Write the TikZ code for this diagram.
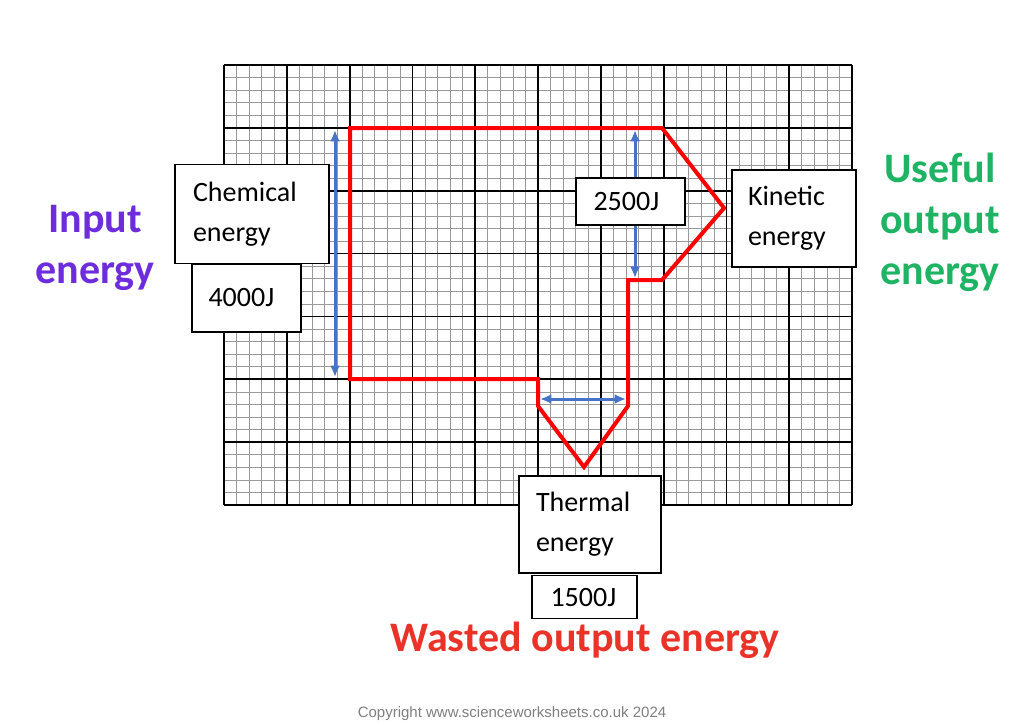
\documentclass[tikz,border=0pt]{standalone}
\usepackage{fontspec}
\setmainfont{Carlito}
\newfontfamily\arialfont{Liberation Sans}
\usetikzlibrary{arrows.meta}
\definecolor{inputpurple}{RGB}{110,45,220}
\definecolor{usefulgreen}{RGB}{30,180,100}
\definecolor{wastedred}{RGB}{235,50,40}
\definecolor{arrowblue}{RGB}{70,115,200}
\tikzset{%
  >={Latex[width=3.5mm,length=4mm]},
  % boxes and labels
  box/.style = {rectangle, draw=black, fill=white, line width=1.3pt,
                align=left, font=\fontsize{28}{40}\selectfont, inner sep=0pt},
  heading/.style = {align=center, font=\fontsize{42}{51}\selectfont\bfseries},
  flow/.style = {draw=red, line width=4pt, line join=miter},
  width/.style = {<->, draw=arrowblue, line width=3pt},
}
\begin{document}
\begin{tikzpicture}[x=1pt,y=-1pt]
  \useasboundingbox (0,0) rectangle (1024,724);
  \fill[white] (0,0) rectangle (1024,724);
  % graph paper
  \foreach \x in {0,...,50} \draw[gray!80, line width=0.6pt] (224+\x*12.56,65) -- (224+\x*12.56,505);
  \foreach \y in {0,...,35} \draw[gray!80, line width=0.6pt] (224,65+\y*12.57) -- (852,65+\y*12.57);
  \foreach \x in {0,...,10} \draw[black, line width=1.8pt] (224+\x*62.8,65) -- (224+\x*62.8,505);
  \foreach \y in {0,...,7} \draw[black, line width=1.8pt] (224,65+\y*62.86) -- (852,65+\y*62.86);
  % Sankey outline
  \draw[flow] (350,128) -- (662,128) -- (724,208) -- (662,280) -- (628,280)
    -- (628,406) -- (584,467) -- (538,406) -- (538,379) -- (350,379) -- cycle;
  % widths
  \coordinate (inTop) at (335,130);
  \coordinate (inBot) at (335,377);
  \coordinate (kinTop) at (635,130);
  \coordinate (kinBot) at (635,278);
  \coordinate (thL) at (540,399);
  \coordinate (thR) at (626,399);
  \draw[width] (inTop) -- (inBot);
  \draw[width] (kinTop) -- (kinBot);
  \draw[width] (thL) -- (thR);
  % boxes
  \node (chem) [box, minimum width=154pt, minimum height=99pt, text width=118pt] at (252,214) {Chemical\\energy};
  \node (chemJ) [box, minimum width=109pt, minimum height=68pt, text width=76pt] at (246.5,298) {4000J};
  \node (kin) [box, minimum width=124pt, minimum height=97pt, text width=92pt] at (794,218.5) {Kinetic\\energy};
  \node (kinJ) [box, minimum width=109pt, minimum height=47pt, text width=74pt] at (630.5,201.5) {2500J};
  \node (therm) [box, minimum width=142pt, minimum height=97pt, text width=108pt] at (590,524.5) {Thermal\\energy};
  \node (thermJ) [box, minimum width=105pt, minimum height=43pt, text width=68pt] at (584.5,597) {1500J};
  % headings
  \node (input) [heading, text=inputpurple] at (95,248) {Input\\energy};
  \node (useful) [heading, text=usefulgreen] at (940,222) {Useful\\output\\energy};
  \node (wasted) [heading, text=wastedred] at (585,640) {Wasted output energy};
  \node (copy) [text=gray, font=\arialfont\fontsize{15}{18}\selectfont] at (512,714) {Copyright www.scienceworksheets.co.uk 2024};
\end{tikzpicture}
\end{document}
